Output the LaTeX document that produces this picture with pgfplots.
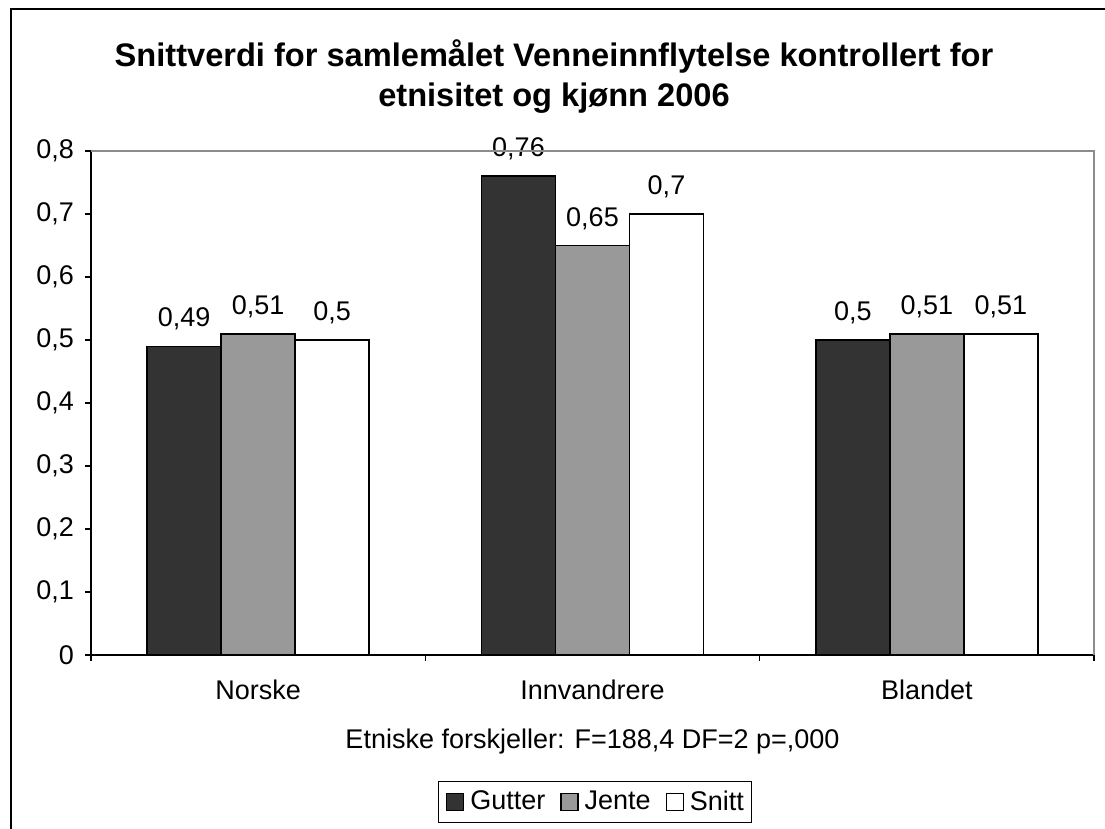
\documentclass[border=0pt]{standalone}
\usepackage{pgfplots}
\pgfplotsset{compat=1.18}
\usepackage{fontspec}
\setmainfont{Liberation Sans}
\definecolor{darkbar}{HTML}{333333}
\definecolor{midbar}{HTML}{999999}
\definecolor{plotframe}{HTML}{8C8C8C}
\begin{document}
\begin{tikzpicture}
\useasboundingbox (0,0) rectangle (552.5pt,-414.5pt);
\draw[line width=1pt] (5.25pt,-415pt) -- (5.25pt,-4.75pt) -- (553pt,-4.75pt);
\begin{axis}[
  at={(45.5pt,-327.5pt)}, anchor=south west,
  scale only axis, width=501.5pt, height=252pt,
  ymin=0, ymax=0.8, xmin=-0.5, xmax=2.5,
  ybar=0pt, bar width=37pt,
  axis x line*=bottom, axis y line*=left,
  axis line style={black, line width=0.8pt, -},
  /pgf/number format/assume math mode=true,
  /pgf/number format/use comma,
  ytick={0,0.1,0.2,0.3,0.4,0.5,0.6,0.7,0.8},
  yticklabel style={/pgf/number format/fixed, /pgf/number format/precision=1, xshift=-2pt},
  xtick={0,1,2},
  xticklabels={Norske, Innvandrere, Blandet},
  minor xtick={-0.5,0.5,1.5,2.5},
  major x tick style={draw=none},
  tick align=outside,
  major tick length=3pt, minor tick length=3pt,
  tick style={black, line width=0.6pt},
  ticklabel style={font=\fontsize{13.5}{15}\selectfont},
  xticklabel style={yshift=-6pt},
  nodes near coords,
  every node near coord/.append style={font=\fontsize{13.5}{15}\selectfont, anchor=base, inner sep=0pt, yshift=9.75pt, black},
  legend entries={Gutter, Jente, Snitt},
  legend columns=3,
  legend style={at={(0.5025,-0.2917)}, anchor=center, draw=black, line width=0.5pt,
    font=\fontsize{13.5}{15}\selectfont, inner xsep=4pt, inner ysep=2.5pt,
    nodes={inner xsep=0pt},
    /tikz/every odd column/.style={column sep=3pt},
    /tikz/every even column/.style={column sep=7.5pt}},
  legend image code/.code={\draw[#1, line width=0.6pt] (0pt,-4.25pt) rectangle (8.5pt,4.25pt);},
  after end axis/.code={\draw[plotframe, line width=1pt] (rel axis cs:0,1) -- (rel axis cs:1,1) -- (rel axis cs:1,0);},
]
\addplot[fill=darkbar, draw=black, line width=0.8pt] coordinates {(0,0.49) (1,0.76) (2,0.50)};
\addplot[fill=midbar, draw=black, line width=0.8pt] coordinates {(0,0.51) (1,0.65) (2,0.51)};
\addplot[fill=white, draw=black, line width=0.8pt] coordinates {(0,0.50) (1,0.70) (2,0.51)};
\end{axis}
\node[font=\bfseries\fontsize{16.3}{20}\selectfont, align=center] at (277pt,-38.5pt) {Snittverdi for samlemålet Venneinnflytelse kontrollert for\\etnisitet og kjønn 2006};
\node[font=\fontsize{13.5}{15}\selectfont] at (296.25pt,-371pt) {Etniske forskjeller: F=188,4 DF=2 p=,000};
\end{tikzpicture}
\end{document}
